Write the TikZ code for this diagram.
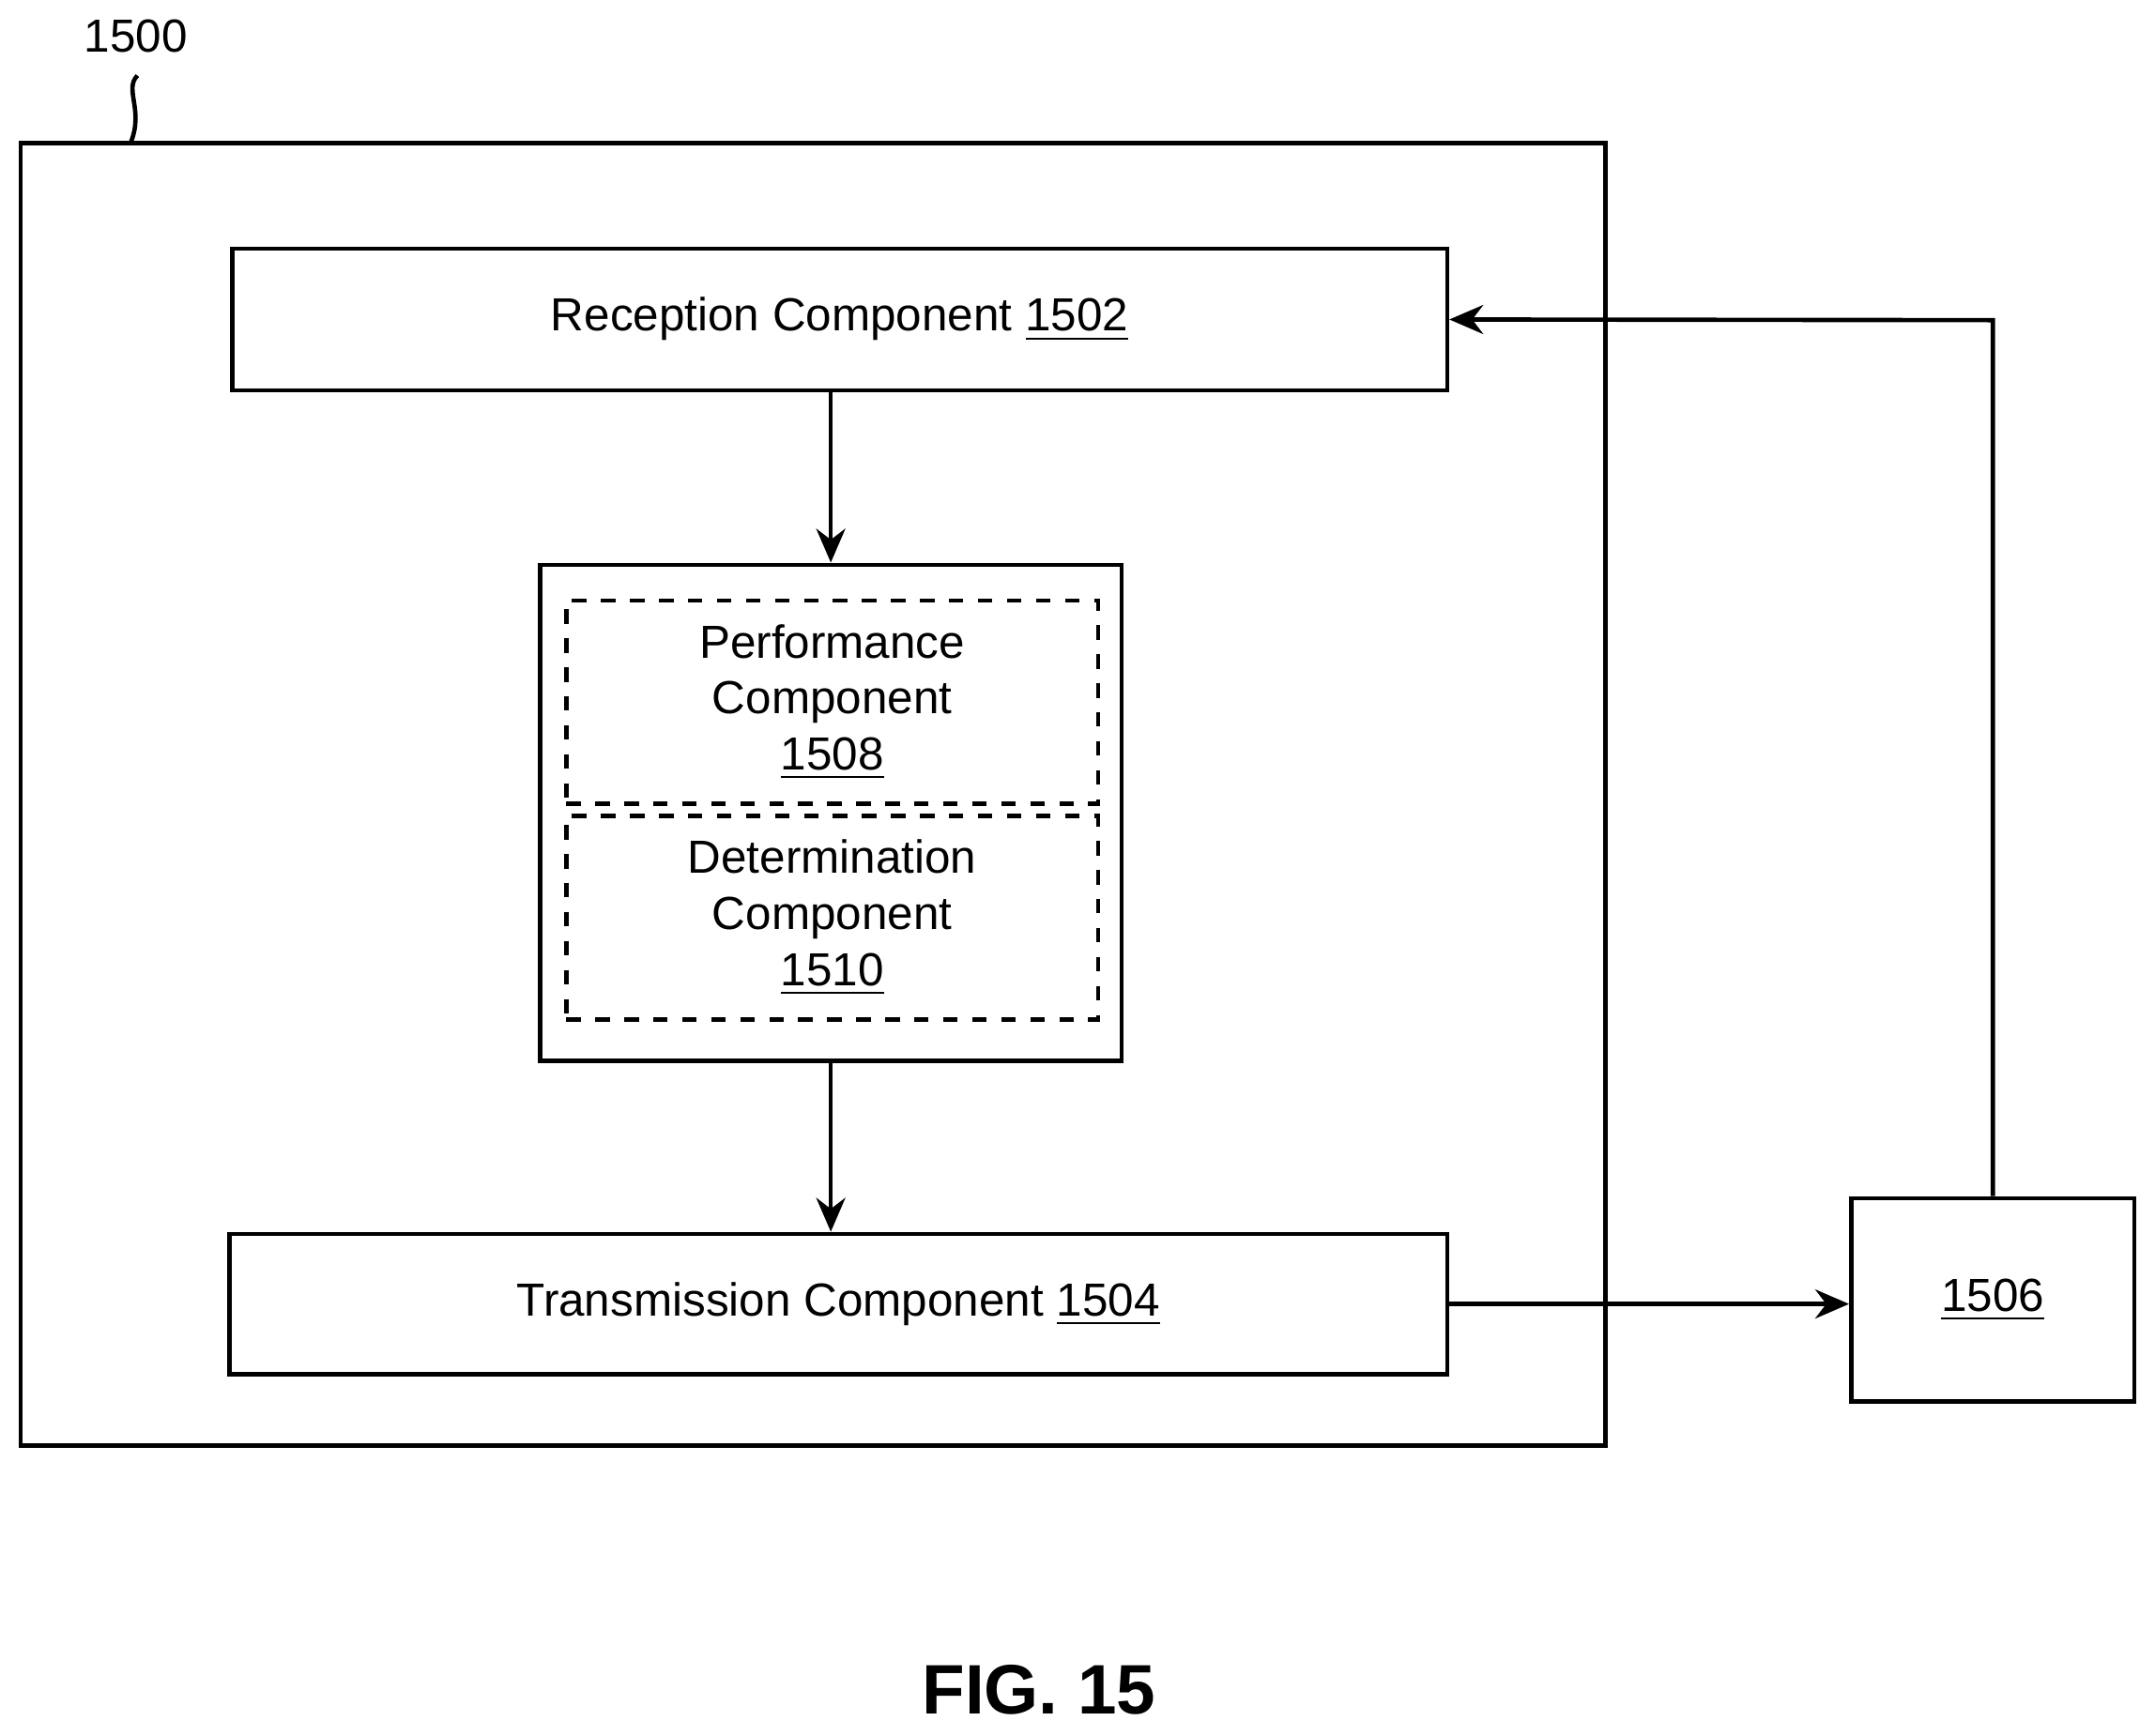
\documentclass[tikz,border=0pt]{standalone}
\usepackage{fontspec}
\setmainfont{Liberation Sans}
\usetikzlibrary{arrows.meta}
\begin{document}
\begin{tikzpicture}[x=0.01cm,y=-0.01cm,line width=0.9pt,
 box/.style={draw,rectangle,inner sep=0pt},
 lbl/.style={font=\fontsize{9.6}{11.6}\selectfont,align=center},
 arr/.style={-{Stealth[length=7pt,width=6pt]}}]
\useasboundingbox (0,0) rectangle (1568,1263);
\draw (15,104) rectangle (1168,1052);
\node[lbl] (n1500) at (99,26) {1500};
\draw (100,55) .. controls (90,65) and (105,80) .. (95,104);
\node[box,minimum width=884*0.01cm,minimum height=103*0.01cm,lbl] (rec) at (611,232.5) {Reception Component \underline{1502}};
\node[box,minimum width=423*0.01cm,minimum height=361*0.01cm] (mid) at (604.5,591.5) {};
\node[box,dashed,minimum width=387*0.01cm,minimum height=148*0.01cm,lbl] (perf) at (605.5,511) {Performance\\Component\\\underline{1508}};
\node[box,dashed,minimum width=387*0.01cm,minimum height=148*0.01cm,lbl] (det) at (605.5,668) {Determination\\Component\\\underline{1510}};
\node[box,minimum width=886*0.01cm,minimum height=102*0.01cm,lbl] (tr) at (610,949) {Transmission Component \underline{1504}};
\node[box,minimum width=206*0.01cm,minimum height=148*0.01cm,lbl] (ext) at (1450,946) {\underline{1506}};
\draw[arr] (rec.south -| mid.north) -- (mid.north);
\draw[arr] (mid.south) -- (mid.south |- tr.north);
\draw[arr] (tr.east) -- (tr.east -| ext.west);
\coordinate (c) at (1450,233);
\draw[arr] (ext.north) -- (c) -- (rec.east);
\node[font=\bfseries\fontsize{14.5}{16}\selectfont] (fig) at (756,1230) {FIG. 15};
\end{tikzpicture}
\end{document}
